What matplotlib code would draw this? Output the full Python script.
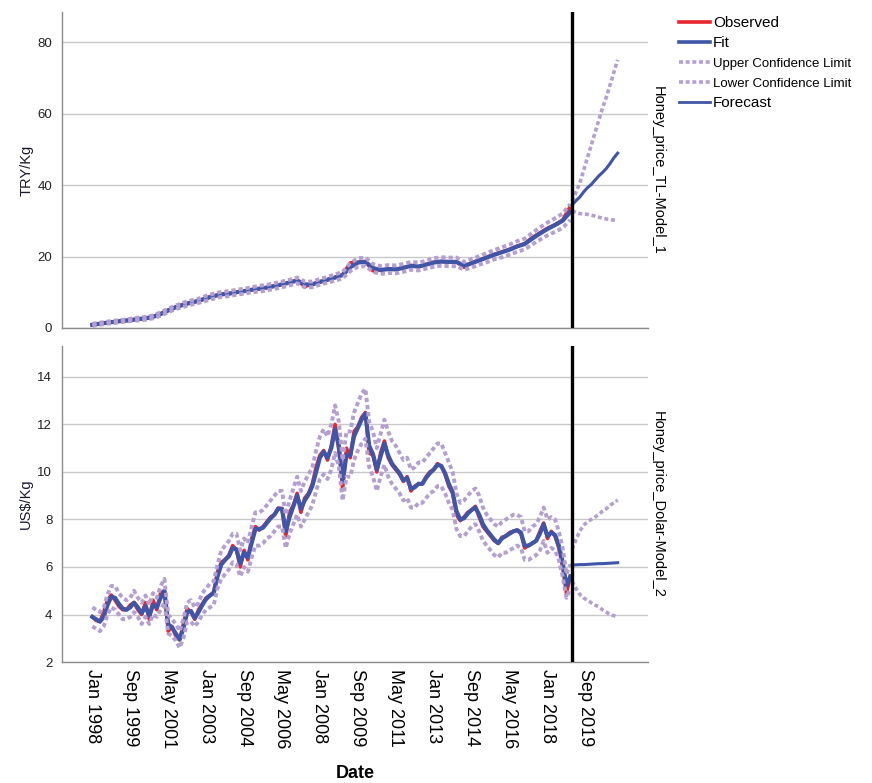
import matplotlib.pyplot as plt
from matplotlib.lines import Line2D

plt.rcParams['font.family'] = ['Liberation Sans', 'DejaVu Sans']

# month index 0 = Jan 1998
tick_pos = list(range(0, 261, 20))
tick_labels = ['Jan 1998', 'Sep 1999', 'May 2001', 'Jan 2003', 'Sep 2004', 'May 2006',
               'Jan 2008', 'Sep 2009', 'May 2011', 'Jan 2013', 'Sep 2014', 'May 2016',
               'Jan 2018', 'Sep 2019']
forecast_start = 253

# TRY/Kg, every 4 months
try_months = list(range(0, 253, 4))
try_obs = [0.9, 1.2, 1.5, 1.75, 2.0, 2.2, 2.5, 2.7, 3.2, 4.0, 5.0, 5.9, 6.6, 7.1, 7.6, 8.4,
           9.0, 9.4, 9.6, 10.0, 10.3, 10.7, 11.0, 11.3, 11.8, 12.2, 12.8, 13.4, 11.6, 12.3, 12.9, 13.5,
           14.2, 14.9, 18.2, 18.4, 18.6, 16.0, 16.2, 16.5, 16.4, 16.9, 17.5, 17.1, 17.8, 18.4, 18.6, 18.5,
           18.5, 17.0, 18.3, 19.0, 19.8, 20.6, 21.3, 22.0, 22.9, 23.6, 25.3, 26.6, 27.9, 28.9, 30.2, 34.0]
try_fit = [0.9, 1.2, 1.5, 1.75, 2.0, 2.2, 2.5, 2.7, 3.1, 3.9, 4.9, 5.8, 6.5, 7.1, 7.6, 8.3,
           8.9, 9.4, 9.6, 10.0, 10.3, 10.7, 11.0, 11.3, 11.7, 12.2, 12.7, 13.3, 12.2, 12.2, 12.9, 13.5,
           14.1, 14.8, 17.0, 18.3, 18.5, 16.8, 16.2, 16.5, 16.4, 16.8, 17.4, 17.2, 17.7, 18.3, 18.6, 18.5,
           18.5, 17.4, 18.1, 18.9, 19.7, 20.5, 21.2, 21.9, 22.8, 23.5, 25.0, 26.4, 27.7, 28.8, 30.0, 32.4]
try_ucl = [1.2, 1.5, 1.8, 2.1, 2.3, 2.6, 2.9, 3.1, 3.5, 4.4, 5.4, 6.3, 7.1, 7.7, 8.2, 9.0,
           9.6, 10.1, 10.3, 10.7, 11.0, 11.4, 11.8, 12.1, 12.5, 13.0, 13.5, 14.1, 13.0, 13.0, 13.7, 14.3,
           15.0, 15.7, 18.1, 19.5, 19.7, 17.9, 17.3, 17.6, 17.5, 17.9, 18.5, 18.3, 18.8, 19.5, 19.8, 19.7,
           19.7, 18.5, 19.3, 20.1, 21.0, 21.8, 22.6, 23.3, 24.3, 25.0, 26.6, 28.1, 29.5, 30.7, 32.0, 34.6]
try_lcl = [0.6, 0.9, 1.2, 1.4, 1.7, 1.9, 2.1, 2.3, 2.7, 3.4, 4.4, 5.3, 5.9, 6.5, 7.0, 7.6,
           8.2, 8.7, 8.9, 9.3, 9.6, 10.0, 10.2, 10.5, 10.9, 11.4, 11.9, 12.5, 11.4, 11.4, 12.1, 12.7,
           13.2, 13.9, 15.9, 17.1, 17.3, 15.7, 15.1, 15.4, 15.3, 15.7, 16.3, 16.1, 16.6, 17.1, 17.4, 17.3,
           17.3, 16.3, 16.9, 17.7, 18.4, 19.2, 19.8, 20.5, 21.3, 22.0, 23.4, 24.7, 25.9, 26.9, 28.0, 30.2]

# forecast horizon, every 2 months
fc_months = list(range(253, 278, 2))
try_fc = [34.4, 35.6, 36.6, 38.0, 39.2, 40.1, 41.3, 42.5, 43.5, 44.6, 46.0, 47.6, 48.9]
try_fc_ucl = [35.5, 38.0, 40.5, 44.0, 47.5, 51.0, 54.5, 58.0, 61.5, 64.5, 68.0, 71.5, 75.0]
try_fc_lcl = [32.8, 32.3, 32.0, 31.9, 31.8, 31.6, 31.3, 31.0, 30.7, 30.5, 30.3, 30.2, 30.1]

# US$/Kg, every 2 months
usd_months = list(range(0, 253, 2))
usd_obs = [3.9, 3.75, 3.7, 4.1, 4.6, 4.82, 4.6, 4.35, 4.2, 4.2, 4.4, 4.5, 4.2, 4.0, 4.5, 3.8,
           4.6, 4.2, 4.9, 5.0, 3.3, 3.5, 3.1, 2.93, 3.6, 4.25, 4.1, 3.8, 4.2, 4.45, 4.7, 4.8,
           4.95, 5.8, 6.2, 6.3, 6.5, 6.9, 6.7, 6.0, 6.7, 6.3, 7.2, 7.7, 7.55, 7.7, 7.9, 8.1,
           8.2, 8.48, 8.45, 7.3, 8.3, 8.6, 9.1, 8.3, 8.9, 9.1, 9.5, 10.2, 10.7, 10.9, 10.5, 11.1,
           12.0, 10.9, 9.3, 11.0, 10.6, 11.7, 11.9, 12.3, 12.5, 10.8, 10.7, 10.0, 10.8, 11.3, 10.6, 10.3,
           10.1, 9.9, 9.6, 9.8, 9.2, 9.4, 9.5, 9.5, 9.8, 10.0, 10.1, 10.35, 10.25, 9.9, 9.4, 9.1,
           8.2, 7.95, 8.1, 8.3, 8.4, 8.55, 8.1, 7.7, 7.5, 7.3, 7.1, 7.0, 7.25, 7.3, 7.45, 7.5,
           7.55, 7.4, 6.8, 6.9, 7.0, 7.1, 7.5, 7.85, 7.2, 7.5, 7.3, 6.8, 6.0, 4.9, 5.6]
usd_fit = [3.9, 3.8, 3.7, 3.9, 4.4, 4.75, 4.7, 4.45, 4.25, 4.2, 4.3, 4.5, 4.3, 4.05, 4.35, 3.95,
           4.4, 4.3, 4.7, 5.0, 3.6, 3.45, 3.2, 2.95, 3.4, 4.1, 4.15, 3.85, 4.1, 4.4, 4.65, 4.8,
           4.9, 5.6, 6.1, 6.3, 6.45, 6.8, 6.75, 6.15, 6.6, 6.4, 7.0, 7.6, 7.6, 7.65, 7.85, 8.05,
           8.2, 8.45, 8.45, 7.5, 8.1, 8.55, 9.0, 8.45, 8.8, 9.05, 9.4, 10.0, 10.6, 10.85, 10.6, 11.0,
           11.8, 11.1, 9.6, 10.7, 10.7, 11.5, 11.85, 12.2, 12.45, 11.1, 10.75, 10.1, 10.65, 11.2, 10.7, 10.35,
           10.15, 9.95, 9.65, 9.75, 9.3, 9.35, 9.5, 9.5, 9.75, 9.95, 10.1, 10.3, 10.25, 9.95, 9.5, 9.15,
           8.35, 8.0, 8.05, 8.25, 8.4, 8.5, 8.2, 7.8, 7.55, 7.35, 7.15, 7.0, 7.2, 7.3, 7.4, 7.5,
           7.55, 7.45, 6.9, 6.9, 7.0, 7.1, 7.4, 7.8, 7.3, 7.45, 7.35, 6.9, 6.2, 5.2, 5.6]
usd_ucl = [4.3, 4.2, 4.1, 4.3, 4.85, 5.2, 5.2, 4.9, 4.7, 4.6, 4.7, 5.0, 4.7, 4.5, 4.8, 4.4,
           4.9, 4.7, 5.2, 5.5, 4.0, 3.8, 3.6, 3.3, 3.8, 4.5, 4.6, 4.3, 4.5, 4.9, 5.1, 5.3,
           5.4, 6.1, 6.7, 6.9, 7.1, 7.4, 7.4, 6.7, 7.2, 7.0, 7.7, 8.3, 8.3, 8.4, 8.6, 8.8,
           9.0, 9.2, 9.2, 8.2, 8.8, 9.3, 9.8, 9.2, 9.6, 9.9, 10.2, 10.9, 11.5, 11.8, 11.5, 12.0,
           12.8, 12.1, 10.5, 11.7, 11.7, 12.5, 12.9, 13.3, 13.5, 12.1, 11.7, 11.0, 11.6, 12.2, 11.7, 11.3,
           11.1, 10.8, 10.5, 10.6, 10.1, 10.2, 10.4, 10.4, 10.6, 10.8, 11.0, 11.2, 11.2, 10.8, 10.4, 10.0,
           9.1, 8.7, 8.8, 9.0, 9.2, 9.3, 9.0, 8.5, 8.2, 8.0, 7.8, 7.7, 7.9, 8.0, 8.1, 8.2,
           8.2, 8.1, 7.5, 7.5, 7.7, 7.8, 8.1, 8.5, 8.0, 8.1, 8.0, 7.5, 6.8, 5.7, 6.1]
usd_lcl = [3.5, 3.4, 3.3, 3.5, 4.0, 4.3, 4.2, 4.0, 3.8, 3.8, 3.9, 4.1, 3.9, 3.6, 3.9, 3.6,
           4.0, 3.9, 4.2, 4.5, 3.2, 3.1, 2.9, 2.6, 3.0, 3.7, 3.7, 3.5, 3.7, 4.0, 4.2, 4.3,
           4.4, 5.1, 5.5, 5.7, 5.9, 6.2, 6.1, 5.6, 6.0, 5.8, 6.4, 6.9, 6.9, 7.0, 7.2, 7.3,
           7.5, 7.7, 7.7, 6.8, 7.4, 7.8, 8.2, 7.7, 8.0, 8.3, 8.6, 9.2, 9.7, 9.9, 9.7, 10.1,
           10.8, 10.2, 8.8, 9.8, 9.8, 10.5, 10.9, 11.2, 11.4, 10.2, 9.8, 9.2, 9.8, 10.3, 9.8, 9.5,
           9.3, 9.1, 8.8, 8.9, 8.5, 8.5, 8.7, 8.7, 8.9, 9.1, 9.2, 9.4, 9.4, 9.1, 8.7, 8.4,
           7.6, 7.3, 7.3, 7.5, 7.7, 7.8, 7.5, 7.1, 6.9, 6.7, 6.5, 6.4, 6.6, 6.6, 6.7, 6.8,
           6.9, 6.8, 6.3, 6.3, 6.4, 6.5, 6.7, 7.1, 6.6, 6.8, 6.7, 6.3, 5.6, 4.7, 5.1]
usd_fc = [6.08, 6.09, 6.10, 6.10, 6.11, 6.12, 6.13, 6.14, 6.14, 6.15, 6.16, 6.17, 6.18]
usd_fc_ucl = [6.75, 7.15, 7.5, 7.75, 7.9, 8.0, 8.1, 8.2, 8.35, 8.45, 8.6, 8.7, 8.82]
usd_fc_lcl = [5.4, 5.1, 4.85, 4.7, 4.6, 4.5, 4.4, 4.33, 4.2, 4.1, 4.0, 3.95, 3.9]

RED = '#e8262d'
BLUE = '#3e55a8'
LILAC = '#b49fd0'
DOTS = (0, (1.1, 0.75))


def draw_panel(ax, months, obs, fit, ucl, lcl, fc, fc_ucl, fc_lcl, ylim, yticks, ylabel, model):
    ax.plot(months, obs, color=RED, lw=2.6, zorder=3)
    ax.plot(months, fit, color=BLUE, lw=3.0, zorder=4)
    ax.plot(months, ucl, color=LILAC, lw=2.8, ls=DOTS, zorder=5)
    ax.plot(months, lcl, color=LILAC, lw=2.8, ls=DOTS, zorder=5)
    ax.plot(fc_months, fc_ucl, color=LILAC, lw=2.6, ls=DOTS, zorder=5)
    ax.plot(fc_months, fc_lcl, color=LILAC, lw=2.6, ls=DOTS, zorder=5)
    ax.plot(fc_months, fc, color=BLUE, lw=2.2, zorder=4)
    ax.axvline(forecast_start, color='black', lw=2.4, zorder=6)

    ax.set_xlim(-16, 293)
    ax.set_ylim(*ylim)
    ax.set_yticks(yticks)
    ax.yaxis.grid(True, color='#c8c8c8', lw=1.0)
    ax.set_axisbelow(True)
    for side in ['top', 'right']:
        ax.spines[side].set_visible(False)
    for side in ['left', 'bottom']:
        ax.spines[side].set_color('#8c8c8c')
        ax.spines[side].set_linewidth(1.0)
    ax.tick_params(axis='both', length=0)
    ax.tick_params(axis='y', labelsize=9.5, pad=7, labelcolor='#222222')
    ax.set_ylabel(ylabel, fontsize=10.5, color='#1a1a2e', labelpad=3)
    ax.text(1.005, 0.5, model, transform=ax.transAxes, rotation=270,
            ha='left', va='center', fontsize=10.5)
    ax.set_xticks(tick_pos)


fig = plt.figure(figsize=(8.72, 7.83), dpi=100)
ax_top = fig.add_axes([0.0711, 0.5811, 0.672, 0.4036])
ax_bot = fig.add_axes([0.0711, 0.1545, 0.672, 0.4036])

draw_panel(ax_top, try_months, try_obs, try_fit, try_ucl, try_lcl,
           try_fc, try_fc_ucl, try_fc_lcl, (0, 88.4), [0, 20, 40, 60, 80],
           'TRY/Kg', 'Honey_price_TL-Model_1')
draw_panel(ax_bot, usd_months, usd_obs, usd_fit, usd_ucl, usd_lcl,
           usd_fc, usd_fc_ucl, usd_fc_lcl, (2, 15.3), [2, 4, 6, 8, 10, 12, 14],
           'US$/Kg', 'Honey_price_Dolar-Model_2')

ax_top.set_xticklabels([])
ax_bot.set_xticklabels(tick_labels, rotation=270, ha='center', va='top', fontsize=13)
ax_bot.tick_params(axis='x', pad=5)
ax_bot.set_xlabel('Date', fontsize=13, fontweight='bold', labelpad=12)

handles = [Line2D([], [], color=RED, lw=2.6),
           Line2D([], [], color=BLUE, lw=2.6),
           Line2D([], [], color=LILAC, lw=2.6, ls=DOTS),
           Line2D([], [], color=LILAC, lw=2.6, ls=DOTS),
           Line2D([], [], color=BLUE, lw=2.0)]
labels = ['Observed', 'Fit', 'Upper Confidence Limit', 'Lower Confidence Limit', 'Forecast']
leg = fig.legend(handles, labels, loc='upper left', bbox_to_anchor=(0.772, 0.987),
                 frameon=False, fontsize=11, handlelength=2.0, handletextpad=0.2,
                 labelspacing=0.4, borderaxespad=0)
for t in leg.get_texts()[2:4]:
    t.set_fontsize(9.5)

fig.savefig('out.png', dpi=100)
